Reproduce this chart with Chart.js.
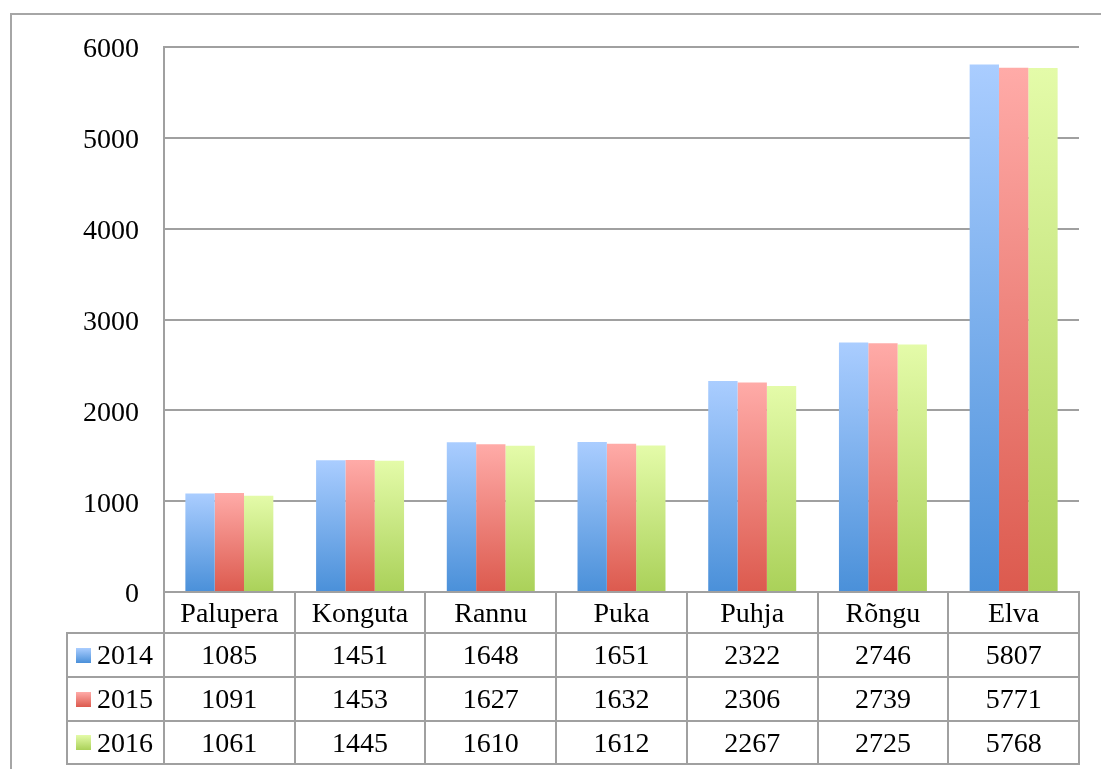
<!DOCTYPE html>
<html>
<head>
<meta charset="utf-8">
<script src="https://cdn.jsdelivr.net/npm/chart.js@4/dist/chart.umd.min.js"></script>
<style>
  html, body { margin: 0; padding: 0; background: #fff; }
  #wrap { position: relative; width: 1101px; height: 769px; overflow: hidden; }
  #frame { position: absolute; left: 10px; top: 13px; width: 1200px; height: 900px; border: 2px solid #a6a6a6; box-sizing: border-box; }
  #c { position: absolute; left: 0; top: 0; }
  .cell { position: absolute; box-sizing: border-box; font-family: "Liberation Serif", "DejaVu Serif", serif; font-size: 28px; color: #000; display: flex; align-items: center; justify-content: center; }
  .hl { position: absolute; background: #a0a0a0; }
  .sw { display: inline-block; width: 15px; height: 15px; margin-right: 6px; }
</style>
</head>
<body>
<div id="wrap">
  <div id="frame"></div>
  <canvas id="c" width="1101" height="769"></canvas>
  <div id="table"></div>
</div>
<script>
const categories = ["Palupera", "Konguta", "Rannu", "Puka", "Puhja", "Rõngu", "Elva"];
const seriesNames = ["2014", "2015", "2016"];
const values2014 = [1085, 1451, 1648, 1651, 2322, 2746, 5807];
const values2015 = [1091, 1453, 1627, 1632, 2306, 2739, 5771];
const values2016 = [1061, 1445, 1610, 1612, 2267, 2725, 5768];
const yTicks = [0, 1000, 2000, 3000, 4000, 5000, 6000];

const seriesValues = [values2014, values2015, values2016];
const gradStops = [
  ["#aacdff", "#4a90d9"],
  ["#ffaba8", "#dc5a4e"],
  ["#e4fba9", "#aad159"]
];

function barFill(i) {
  return function(ctx) {
    const chart = ctx.chart;
    if (ctx.type !== 'data' || !chart.scales || !chart.scales.y) return gradStops[i][1];
    const y = chart.scales.y;
    const top = y.getPixelForValue(ctx.raw);
    const bot = y.getPixelForValue(0);
    if (!isFinite(top) || !isFinite(bot) || top === bot) return gradStops[i][1];
    const g = chart.ctx.createLinearGradient(0, top, 0, bot);
    g.addColorStop(0, gradStops[i][0]);
    g.addColorStop(1, gradStops[i][1]);
    return g;
  };
}

const FONT = "'Liberation Serif', 'DejaVu Serif', serif";

const tablePlugin = {
  id: 'dataTable',
  afterRender(chart) {
    const host = document.getElementById('table');
    if (host.dataset.done) return;
    host.dataset.done = '1';
    const x = chart.scales.x;
    const area = chart.chartArea;
    const n = categories.length;
    const half = (x.getPixelForValue(1) - x.getPixelForValue(0)) / 2;
    const edges = [];
    for (let i = 0; i < n; i++) edges.push(x.getPixelForValue(i) - half);
    edges.push(x.getPixelForValue(n - 1) + half);
    const left0 = 67;
    const rowTops = [area.bottom, area.bottom + 41, area.bottom + 85, area.bottom + 129, area.bottom + 172];
    let html = '';
    for (let i = 0; i < n; i++) {
      html += `<div class="cell" style="left:${edges[i]}px;top:${rowTops[0]}px;width:${edges[i+1]-edges[i]}px;height:${rowTops[1]-rowTops[0]}px;">${categories[i]}</div>`;
    }
    for (let r = 0; r < 3; r++) {
      const t = rowTops[r + 1], h = rowTops[r + 2] - rowTops[r + 1];
      html += `<div class="cell" style="left:${left0}px;top:${t}px;width:${edges[0]-left0}px;height:${h}px;justify-content:flex-start;padding-left:9px;"><span class="sw" style="background:linear-gradient(${gradStops[r][0]},${gradStops[r][1]})"></span>${seriesNames[r]}</div>`;
      for (let i = 0; i < n; i++) {
        html += `<div class="cell" style="left:${edges[i]}px;top:${t}px;width:${edges[i+1]-edges[i]}px;height:${h}px;">${seriesValues[r][i]}</div>`;
      }
    }
    html += `<div class="hl" style="left:${edges[0]-1}px;top:${rowTops[0]-1}px;width:${edges[n]-edges[0]+2}px;height:2px"></div>`;
    for (let r = 1; r < 5; r++) {
      html += `<div class="hl" style="left:${left0-1}px;top:${rowTops[r]-1}px;width:${edges[n]-left0+2}px;height:2px"></div>`;
    }
    html += `<div class="hl" style="left:${left0-1}px;top:${rowTops[1]-1}px;width:2px;height:${rowTops[4]-rowTops[1]+2}px"></div>`;
    for (let i = 0; i <= n; i++) {
      html += `<div class="hl" style="left:${edges[i]-1}px;top:${rowTops[0]-1}px;width:2px;height:${rowTops[4]-rowTops[0]+2}px"></div>`;
    }
    host.innerHTML = html;
  }
};

new Chart(document.getElementById('c'), {
  type: 'bar',
  data: {
    labels: categories,
    datasets: seriesNames.map((name, i) => ({
      label: name,
      data: seriesValues[i],
      backgroundColor: barFill(i),
      borderWidth: 0,
      barPercentage: 1.0,
      categoryPercentage: 0.673
    }))
  },
  options: {
    responsive: false,
    animation: false,
    devicePixelRatio: 1,
    layout: { padding: { left: 10, top: 47, right: 22, bottom: 177 } },
    plugins: { legend: { display: false }, tooltip: { enabled: false } },
    scales: {
      x: { display: false },
      y: {
        min: 0, max: 6000,
        afterBuildTicks(scale) { scale.ticks = yTicks.map(v => ({ value: v })); },
        afterFit(scale) { scale.width = 154; },
        ticks: { color: '#000', padding: 25, labelOffset: 3, font: { family: FONT, size: 28 }, callback: v => String(v) },
        grid: { color: '#a0a0a0', lineWidth: 2, drawTicks: false },
        border: { display: true, color: '#a0a0a0', width: 2 }
      }
    }
  },
  plugins: [tablePlugin]
});
</script>
</body>
</html>
